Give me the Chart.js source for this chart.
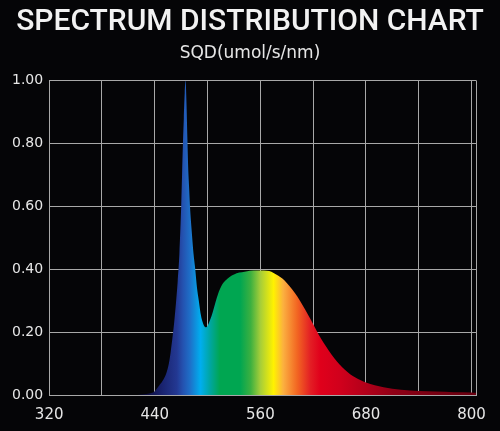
<!DOCTYPE html>
<html>
<head>
<meta charset="utf-8">
<script src="https://cdn.jsdelivr.net/npm/chart.js@4/dist/chart.umd.min.js"></script>
<style>
  html, body { margin: 0; padding: 0; background: #050507; }
  #wrap { width: 500px; height: 431px; }
</style>
</head>
<body>
<div id="wrap"><canvas id="c" width="500" height="431"></canvas></div>
<script>
// ---- data ----
const wavelengths = [420, 430, 436, 440, 445, 450, 453, 456, 458, 460, 462, 464, 466, 468, 470, 471, 472, 473, 474, 475, 476, 477, 478, 479, 480, 482, 484, 486, 488, 490, 492, 494, 496, 498, 500, 503, 506, 509, 512, 516, 520, 525, 530, 536, 542, 548, 556, 564, 570, 575, 580, 585, 590, 596, 602, 608, 614, 620, 626, 632, 638, 644, 650, 656, 662, 668, 674, 680, 690, 700, 710, 720, 740, 760, 780, 800, 805];
const sqd = [0.0, 0.003, 0.006, 0.012, 0.03, 0.05, 0.068, 0.10, 0.135, 0.18, 0.23, 0.29, 0.36, 0.45, 0.60, 0.70, 0.80, 0.88, 0.96, 1.00, 0.93, 0.82, 0.72, 0.66, 0.60, 0.52, 0.45, 0.40, 0.34, 0.30, 0.26, 0.235, 0.22, 0.215, 0.22, 0.24, 0.265, 0.295, 0.322, 0.348, 0.363, 0.375, 0.383, 0.389, 0.392, 0.395, 0.396, 0.396, 0.394, 0.388, 0.38, 0.37, 0.356, 0.336, 0.313, 0.285, 0.256, 0.225, 0.193, 0.165, 0.14, 0.117, 0.097, 0.08, 0.066, 0.056, 0.047, 0.04, 0.031, 0.025, 0.02, 0.017, 0.013, 0.011, 0.009, 0.008, 0.007];
const xGridTicks = [320, 380, 440, 500, 560, 620, 680, 740, 800, 805];
const xTickLabels = [320, 440, 560, 680, 800];
const yTickLabels = ["0.00", "0.20", "0.40", "0.60", "0.80", "1.00"];

// ---- spectrum colours (wavelength -> colour) ----
const gradientNm = [430, 446, 465, 472, 480, 492, 503, 514, 537, 549, 560, 575, 586, 602, 617, 628, 651, 682, 711, 760, 806];
const gradientColors = ["#0c0c3a", "#18206a", "#233892", "#2452b0", "#1e6fc8", "#00aeef", "#00a6a0", "#00a651", "#00a651", "#3cb040", "#a6ce39", "#fff200", "#fbb040", "#f26522", "#e31e24", "#e0001b", "#d0001c", "#b0001a", "#900016", "#780012", "#6a0010"];

const points = wavelengths.map((w, i) => ({ x: w, y: sqd[i] }));

function spectrumFill(context) {
  const chart = context.chart;
  const area = chart.chartArea;
  if (!area) return null;
  const xs = chart.scales.x;
  const g = chart.ctx.createLinearGradient(area.left, 0, area.right, 0);
  const span = area.right - area.left;
  gradientNm.forEach((nm, i) => {
    let p = (xs.getPixelForValue(nm) - area.left) / span;
    p = Math.max(0, Math.min(1, p));
    g.addColorStop(p, gradientColors[i]);
  });
  return g;
}

const gridColor = "#a8a8a8";
const textColor = "#e6e6e6";

new Chart(document.getElementById("c"), {
  type: "line",
  data: {
    datasets: [{
      data: points,
      fill: "origin",
      backgroundColor: spectrumFill,
      borderWidth: 0,
      pointRadius: 0,
      cubicInterpolationMode: "monotone"
    }]
  },
  options: {
    responsive: false,
    animation: false,
    devicePixelRatio: 1,
    layout: { padding: { top: 0, left: 6, right: 6, bottom: -4 } },
    plugins: {
      legend: { display: false },
      tooltip: { enabled: false },
      title: {
        display: true,
        text: "SPECTRUM DISTRIBUTION CHART",
        color: "#f2f2f2",
        font: { family: "Roboto, 'Liberation Sans', sans-serif", size: 30, weight: "500" },
        padding: { top: 4, bottom: 0 }
      },
      subtitle: {
        display: true,
        text: "SQD(umol/s/nm)",
        color: textColor,
        font: { family: "'DejaVu Sans', sans-serif", size: 17, weight: "normal" },
        padding: { top: 3, bottom: 17 }
      }
    },
    scales: {
      x: {
        type: "linear",
        min: 320,
        max: 805,
        afterBuildTicks: (axis) => { axis.ticks = xGridTicks.map(v => ({ value: v })); },
        ticks: {
          autoSkip: false,
          maxRotation: 0,
          padding: 11,
          color: textColor,
          font: { family: "'DejaVu Sans', sans-serif", size: 15 },
          callback: (v) => xTickLabels.includes(v) ? String(v) : ""
        },
        grid: { color: gridColor, lineWidth: 1, drawTicks: false },
        border: { color: gridColor, width: 1 }
      },
      y: {
        min: 0,
        max: 1,
        ticks: {
          stepSize: 0.2,
          padding: 6,
          color: textColor,
          font: { family: "'DejaVu Sans', sans-serif", size: 14 },
          callback: (v, i) => yTickLabels[i]
        },
        grid: { color: gridColor, lineWidth: 1, drawTicks: false },
        border: { color: gridColor, width: 1 }
      },
      yRight: {
        position: "right",
        min: 0,
        max: 1,
        grid: { display: false },
        border: { display: false },
        ticks: { display: false },
        afterFit: (axis) => { axis.width = 18; }
      }
    }
  }
});
</script>
</body>
</html>
